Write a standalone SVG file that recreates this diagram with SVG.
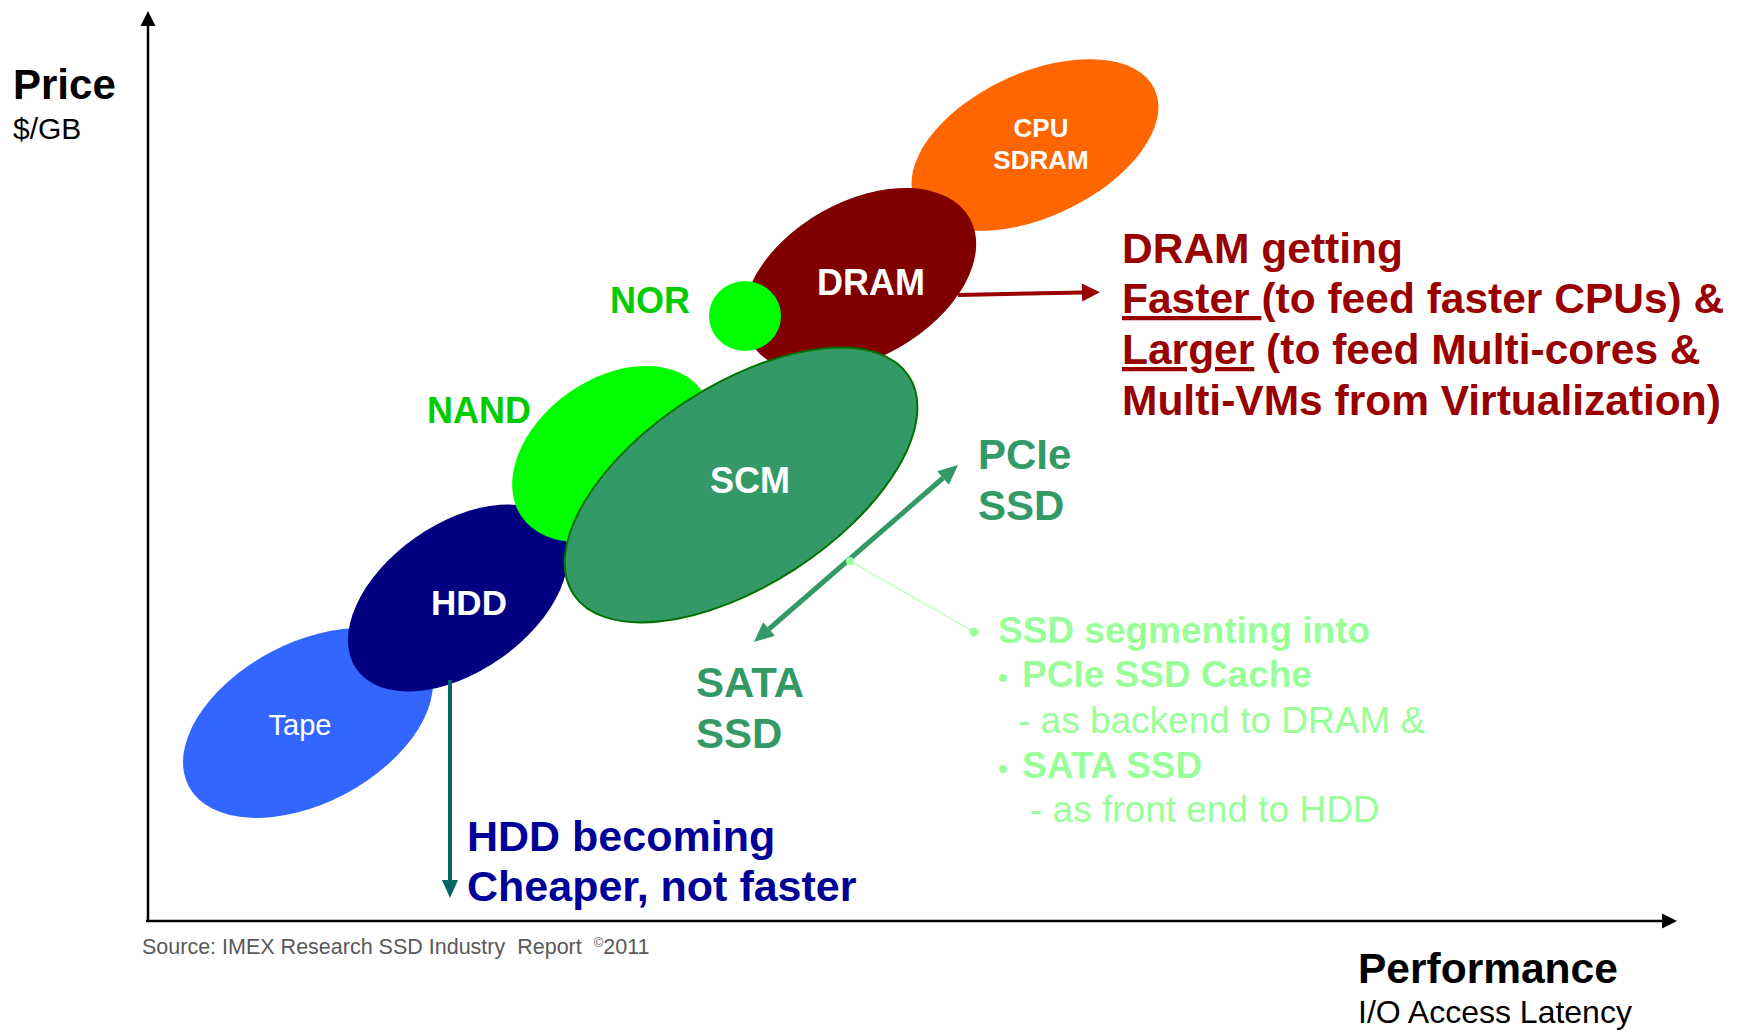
<svg xmlns="http://www.w3.org/2000/svg" width="1743" height="1031" viewBox="0 0 1743 1031">
<style>
text{font-family:"Liberation Sans",Arial,sans-serif}
.b{font-weight:bold}
.w{fill:#FFFFFF}
.mid{text-anchor:middle}
.red{fill:#990000;font-size:42.5px;font-weight:bold}
.lg{fill:#99FF99;font-size:37px}
.sg{fill:#339966;font-size:42px;font-weight:bold}
.nv{fill:#000099;font-size:43px;font-weight:bold}
</style>
<defs>
<marker id="mAxis" markerUnits="userSpaceOnUse" markerWidth="16" markerHeight="16" refX="0" refY="7.5" orient="auto" overflow="visible"><path d="M0,0 L15,7.5 L0,15 z" fill="#000"/></marker>
<marker id="mRed" markerUnits="userSpaceOnUse" markerWidth="19" markerHeight="19" refX="0" refY="9" orient="auto" overflow="visible"><path d="M0,0 L18,9 L0,18 z" fill="#990000"/></marker>
<marker id="mGreen" markerUnits="userSpaceOnUse" markerWidth="21" markerHeight="19" refX="0" refY="9" orient="auto-start-reverse" overflow="visible"><path d="M0,0 L20,9 L0,18 z" fill="#339966"/></marker>
<marker id="mTeal" markerUnits="userSpaceOnUse" markerWidth="19" markerHeight="17" refX="0" refY="8" orient="auto" overflow="visible"><path d="M0,0 L18,8 L0,16 z" fill="#006666"/></marker>
</defs>

<g id="axes">
<line x1="148" y1="922" x2="148" y2="26" stroke="#000" stroke-width="2.5" marker-end="url(#mAxis)"/>
<line x1="146" y1="921" x2="1662" y2="921" stroke="#000" stroke-width="2.5" marker-end="url(#mAxis)"/>
</g>

<g id="node-tape"><ellipse cx="308" cy="723" rx="135" ry="80" transform="rotate(-28 308 723)" fill="#3366FF"/>
<text x="300" y="735" class="w mid" font-size="29">Tape</text></g>

<g id="node-hdd"><ellipse cx="458" cy="598" rx="124" ry="74" transform="rotate(-35 458 598)" fill="#000080"/>
<text x="469" y="615" class="w mid b" font-size="35">HDD</text></g>

<g id="node-nand"><ellipse cx="612" cy="454" rx="110" ry="75" transform="rotate(-35 612 454)" fill="#00FF00"/>
<text x="427" y="423" class="b" font-size="36" fill="#00CC00">NAND</text></g>

<g id="node-cpu"><ellipse cx="1035" cy="145" rx="132" ry="72" transform="rotate(-25 1035 145)" fill="#FF6600"/>
<text x="1041" y="137" class="w mid b" font-size="26">CPU</text>
<text x="1041" y="169" class="w mid b" font-size="26">SDRAM</text></g>

<g id="node-dram"><ellipse cx="860" cy="280" rx="126" ry="78" transform="rotate(-29.5 860 280)" fill="#800000"/>
<text x="871" y="295" class="w mid b" font-size="36">DRAM</text></g>

<g id="node-nor"><ellipse cx="745" cy="316" rx="36" ry="35" fill="#00FF00"/>
<text x="610" y="313" class="b" font-size="36" fill="#00CC00">NOR</text></g>

<g id="node-scm"><ellipse cx="741" cy="485" rx="200" ry="100" transform="rotate(-33 741 485)" fill="#339966" stroke="#007000" stroke-width="2"/>
<text x="750" y="493" class="w mid b" font-size="36">SCM</text></g>

<g id="connectors">
<line x1="958" y1="295" x2="1082" y2="292.5" stroke="#990000" stroke-width="4" marker-end="url(#mRed)"/>
<line x1="769" y1="629" x2="943" y2="478" stroke="#339966" stroke-width="5" marker-start="url(#mGreen)" marker-end="url(#mGreen)"/>
<line x1="450" y1="680" x2="450" y2="880" stroke="#006666" stroke-width="4" marker-end="url(#mTeal)"/>
<line x1="850" y1="561" x2="974" y2="632" stroke="#99FF99" stroke-width="1"/>
<circle cx="850" cy="561" r="4" fill="#99FF99"/>
<circle cx="974" cy="632" r="4.5" fill="#99FF99"/>
</g>

<g id="label-dram">
<text x="1122" y="263" class="red">DRAM getting</text>
<text x="1122" y="313" class="red"><tspan text-decoration="underline">Faster </tspan>(to feed faster CPUs) &amp;</text>
<text x="1122" y="364" class="red"><tspan text-decoration="underline">Larger</tspan> (to feed Multi-cores &amp;</text>
<text x="1122" y="415" class="red">Multi-VMs from Virtualization)</text>
</g>

<g id="label-pcie">
<text x="978" y="469" class="sg">PCIe</text>
<text x="978" y="520" class="sg">SSD</text>
</g>
<g id="label-sata">
<text x="696" y="697" class="sg">SATA</text>
<text x="696" y="748" class="sg">SSD</text>
</g>

<g id="label-ssd">
<text x="998" y="643" class="lg b">SSD segmenting into</text>
<text y="687" class="lg b"><tspan x="998" font-size="28">•</tspan><tspan x="1022">PCIe SSD Cache</tspan></text>
<text x="1018" y="733" class="lg">- as backend to DRAM &amp;</text>
<text y="778" class="lg b"><tspan x="998" font-size="28">•</tspan><tspan x="1022">SATA SSD</tspan></text>
<text x="1030" y="822" class="lg">- as front end to HDD</text>
</g>

<g id="label-hdd">
<text x="467" y="851" class="nv">HDD becoming</text>
<text x="467" y="901" class="nv">Cheaper, not faster</text>
</g>

<g id="axis-labels">
<text x="13" y="99" class="b" font-size="42">Price</text>
<text x="13" y="139" font-size="30">$/GB</text>
<text x="1358" y="983" class="b" font-size="42.5">Performance</text>
<text x="1358" y="1023" font-size="32">I/O Access Latency</text>
<text x="142" y="954" font-size="21.5" fill="#595959" xml:space="preserve">Source: IMEX Research SSD Industry  Report  <tspan font-size="13" dy="-7">©</tspan><tspan dy="7">2011</tspan></text>
</g>
</svg>
